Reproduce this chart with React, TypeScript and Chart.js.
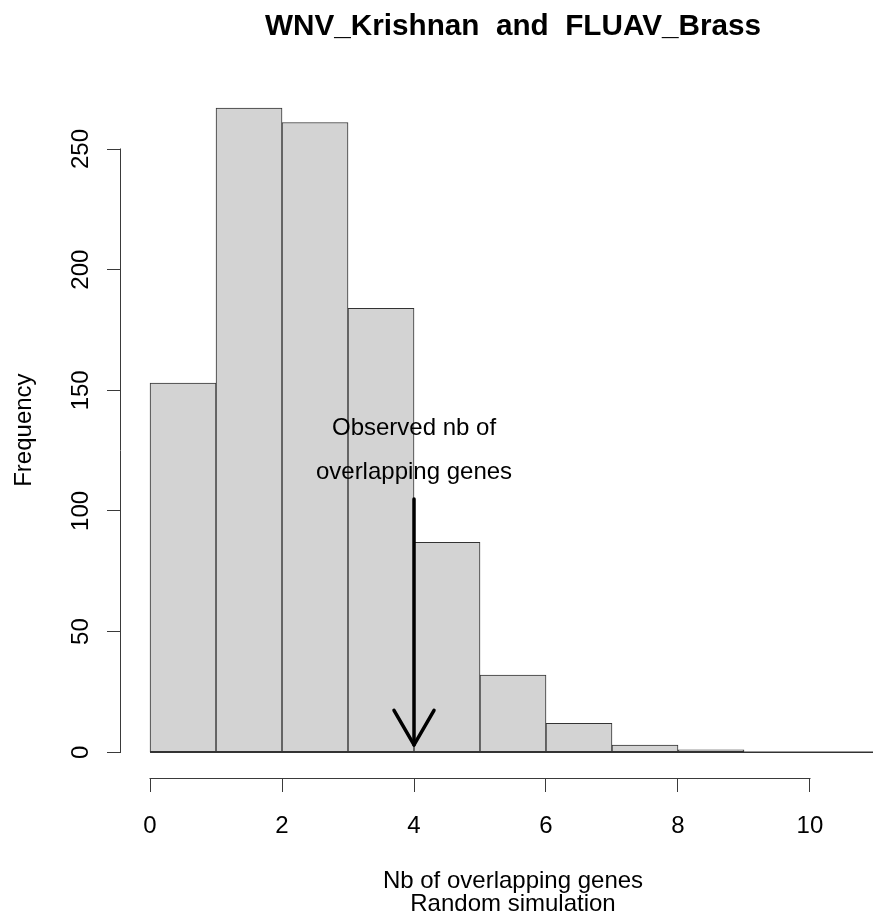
import React, { useEffect, useRef } from "react";
import { Chart, registerables } from "chart.js";

Chart.register(...registerables);

// ---- data ----
const binEdges = [0, 1, 2, 3, 4, 5, 6, 7, 8, 9, 10, 11];
const counts = [153, 267, 261, 184, 87, 32, 12, 3, 1, 0, 0];
const xTicks = [0, 2, 4, 6, 8, 10];
const yTicks = [0, 50, 100, 150, 200, 250];
const titleText = "WNV_Krishnan  and  FLUAV_Brass";
const xTitle = ["Nb of overlapping genes", "Random simulation"];
const yTitle = "Frequency";
const annotationLines = ["Observed nb of", "overlapping genes"];
const annotationPos = [4, 125];
const arrowX = [4];
const arrowY = [105, 3];

// ---- style ----
const FONT = "'Liberation Sans', Arial, Helvetica, sans-serif";
const AXIS_COLOR = "#3a3a3a";
const BAR_FILL = "#d3d3d3";
const BAR_BORDER = "#333333";
const CANVAS_W = 967;
const CANVAS_H = 923;

// R-style 4% axis extension
const xLo = binEdges[0];
const xHi = binEdges[binEdges.length - 1];
const xMin = xLo - 0.04 * (xHi - xLo);
const xMax = xHi + 0.04 * (xHi - xLo);
const yLo = Math.min(0, ...counts);
const yHi = Math.max(...counts);
const yMin = yLo - 0.04 * (yHi - yLo);
const yMax = yHi + 0.04 * (yHi - yLo);

const barData = counts.map((c, i) => ({ x: (binEdges[i] + binEdges[i + 1]) / 2, y: c }));
const baseData = [
  { x: binEdges[0], y: 0 },
  { x: binEdges[binEdges.length - 1], y: 0 },
];

const rAxesPlugin = {
  id: "rAxes",
  afterDraw(chart: any) {
    const { ctx } = chart;
    const xs = chart.scales.x;
    const ys = chart.scales.y;
    ctx.save();
    ctx.strokeStyle = AXIS_COLOR;
    ctx.lineWidth = 1;
    // x axis line between first and last tick
    const yy = Math.round(xs.top) + 0.5;
    ctx.beginPath();
    ctx.moveTo(Math.round(xs.getPixelForValue(xTicks[0])) - 0.5, yy);
    ctx.lineTo(Math.round(xs.getPixelForValue(xTicks[xTicks.length - 1])) + 0.5, yy);
    ctx.stroke();
    // y axis line between first and last tick
    const xx = Math.round(ys.right) - 0.5;
    ctx.beginPath();
    ctx.moveTo(xx, Math.round(ys.getPixelForValue(yTicks[0])) + 0.5);
    ctx.lineTo(xx, Math.round(ys.getPixelForValue(yTicks[yTicks.length - 1])) - 0.5);
    ctx.stroke();
    ctx.restore();
  },
};

const annotationPlugin = {
  id: "observedArrow",
  afterDatasetsDraw(chart: any) {
    const { ctx } = chart;
    const xs = chart.scales.x;
    const ys = chart.scales.y;
    ctx.save();
    // text
    ctx.fillStyle = "#000";
    ctx.font = `24px ${FONT}`;
    ctx.textAlign = "center";
    ctx.textBaseline = "middle";
    const tx = xs.getPixelForValue(annotationPos[0]);
    const ty = ys.getPixelForValue(annotationPos[1]);
    const lineGap = 44;
    annotationLines.forEach((t, i) => {
      const off = (i - (annotationLines.length - 1) / 2) * lineGap;
      ctx.fillText(t, tx, ty + off);
    });
    // arrow
    const ax = xs.getPixelForValue(arrowX[0]);
    const y0 = ys.getPixelForValue(arrowY[0]);
    const y1 = ys.getPixelForValue(arrowY[1]);
    ctx.strokeStyle = "#000";
    ctx.lineWidth = 3.5;
    ctx.lineCap = "round";
    ctx.lineJoin = "round";
    ctx.beginPath();
    ctx.moveTo(ax, y0);
    ctx.lineTo(ax, y1);
    ctx.stroke();
    const headLen = 40;
    const ang = Math.PI / 6;
    ctx.beginPath();
    ctx.moveTo(ax - headLen * Math.sin(ang), y1 - headLen * Math.cos(ang));
    ctx.lineTo(ax, y1);
    ctx.lineTo(ax + headLen * Math.sin(ang), y1 - headLen * Math.cos(ang));
    ctx.stroke();
    ctx.restore();
  },
};

export default function App() {
  const ref = useRef<HTMLCanvasElement | null>(null);

  useEffect(() => {
    if (!ref.current) return;
    const chart = new Chart(ref.current, {
      type: "bar",
      data: {
        datasets: [
          {
            type: "bar",
            data: barData as any,
            backgroundColor: BAR_FILL,
            borderColor: BAR_BORDER,
            borderWidth: 1,
            borderSkipped: false,
            barPercentage: 1,
            categoryPercentage: 1,
            order: 2,
          },
          {
            type: "line",
            data: baseData as any,
            borderColor: BAR_BORDER,
            borderWidth: 1.5,
            pointRadius: 0,
            fill: false,
            order: 1,
          } as any,
        ],
      },
      options: {
        responsive: false,
        animation: false,
        devicePixelRatio: 1,
        layout: { padding: { left: 0, right: 62, top: 0, bottom: 0 } },
        plugins: {
          legend: { display: false },
          tooltip: { enabled: false },
          title: {
            display: true,
            text: titleText,
            fullSize: false,
            color: "#000",
            font: { family: FONT, size: 29.7, weight: "bold", lineHeight: 1.2 },
            padding: { top: 9, bottom: 37.6 },
          },
        },
        scales: {
          x: {
            type: "linear",
            min: xMin,
            max: xMax,
            offset: false,
            afterBuildTicks: (s: any) => {
              s.ticks = xTicks.map((v) => ({ value: v }));
            },
            afterFit: (s: any) => {
              s.height = 145;
            },
            grid: {
              display: true,
              offset: false,
              drawOnChartArea: false,
              drawTicks: true,
              tickLength: 14,
              color: AXIS_COLOR,
              lineWidth: 1,
            },
            border: { display: false },
            ticks: {
              autoSkip: false,
              minRotation: 0,
              maxRotation: 0,
              padding: 20,
              color: "#000",
              font: { family: FONT, size: 24 },
            },
            title: {
              display: true,
              text: xTitle,
              color: "#000",
              font: { family: FONT, size: 24, lineHeight: 0.96 },
              padding: { top: 0, bottom: 7.5 },
            },
          },
          y: {
            type: "linear",
            min: yMin,
            max: yMax,
            afterBuildTicks: (s: any) => {
              s.ticks = yTicks.map((v) => ({ value: v }));
            },
            afterFit: (s: any) => {
              s.width = 121;
            },
            grid: {
              display: true,
              drawOnChartArea: false,
              drawTicks: true,
              tickLength: 14,
              color: AXIS_COLOR,
              lineWidth: 1,
            },
            border: { display: false },
            ticks: {
              autoSkip: false,
              minRotation: 90,
              maxRotation: 90,
              crossAlign: "center",
              padding: 6,
              color: "#000",
              font: { family: FONT, size: 24 },
            },
            title: {
              display: true,
              text: yTitle,
              color: "#000",
              font: { family: FONT, size: 24 },
              padding: { top: 10, bottom: 0 },
            },
          },
        },
      } as any,
      plugins: [rAxesPlugin, annotationPlugin],
    });
    return () => chart.destroy();
  }, []);

  return (
    <div
      style={{
        position: "absolute",
        left: 0,
        top: 0,
        width: 873,
        height: 923,
        overflow: "hidden",
        background: "#fff",
      }}
    >
      <canvas ref={ref} width={CANVAS_W} height={CANVAS_H} style={{ width: CANVAS_W, height: CANVAS_H, display: "block" }} />
    </div>
  );
}
